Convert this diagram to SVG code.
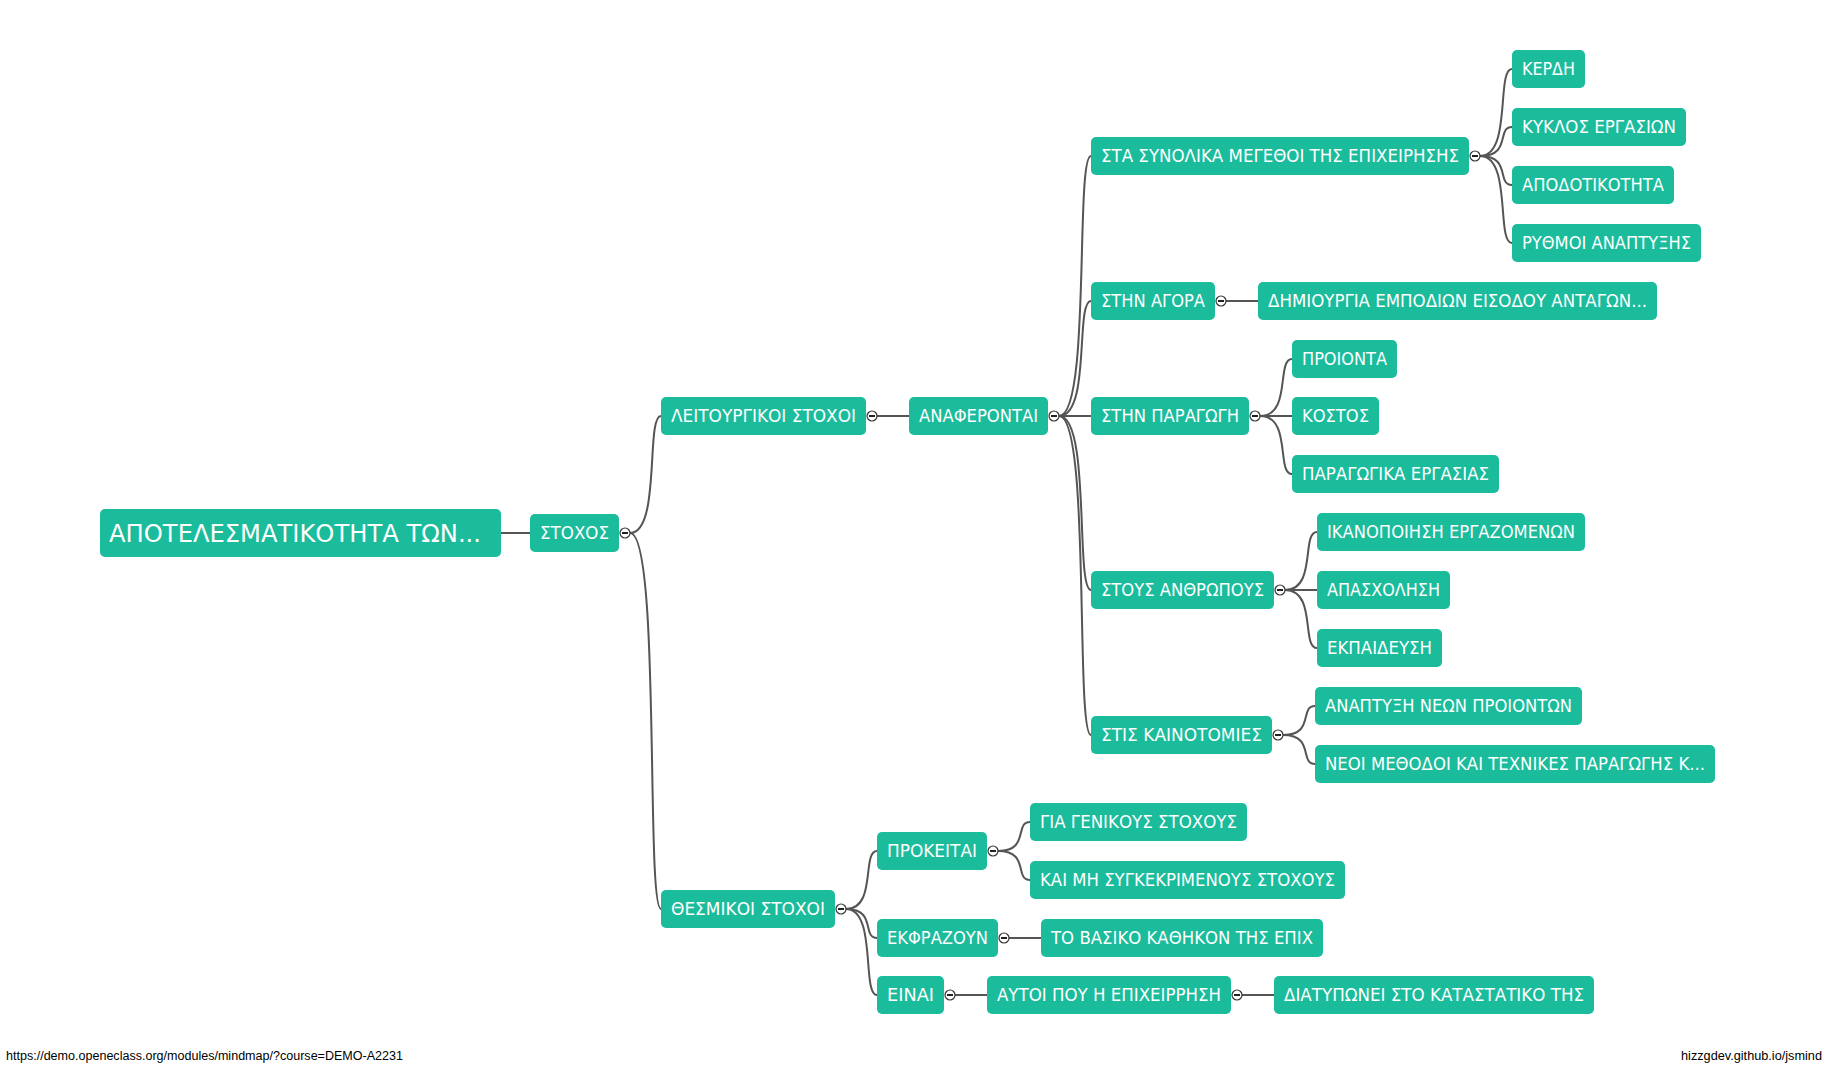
<svg xmlns="http://www.w3.org/2000/svg" width="1828" height="1066" viewBox="0 0 1828 1066">
<style>
.n rect{fill:#1abc9c;}
.n text{fill:#fff;font-family:"DejaVu Sans","Liberation Sans",sans-serif;font-size:17px;}
.r text{font-size:24px;}
.c path{fill:none;stroke:#555;stroke-width:2;}
.e circle{fill:#fff;stroke:#333;stroke-width:1.2;}
.e path{stroke:#222;stroke-width:2;fill:none;}
.f{font-family:"Liberation Sans",sans-serif;font-size:12px;fill:#000;}
</style>
<rect width="1828" height="1066" fill="#fff"/>
<g id="connectors" class="c">
<path d="M300 533 L530 533"/>
<path d="M630 533 C661 533 645.5 416 661 416"/>
<path d="M630 533 C661 533 645.5 909 661 909"/>
<path d="M877 416 L909 416"/>
<path d="M1059 416 C1091 416 1075 156 1091 156"/>
<path d="M1059 416 C1091 416 1075 301 1091 301"/>
<path d="M1059 416 L1091 416"/>
<path d="M1059 416 C1091 416 1075 590 1091 590"/>
<path d="M1059 416 C1091 416 1075 735 1091 735"/>
<path d="M1480 156 C1512 156 1496 69 1512 69"/>
<path d="M1480 156 C1512 156 1496 127 1512 127"/>
<path d="M1480 156 C1512 156 1496 185 1512 185"/>
<path d="M1480 156 C1512 156 1496 243 1512 243"/>
<path d="M1226 301 L1258 301"/>
<path d="M1260 416 C1292 416 1276 359 1292 359"/>
<path d="M1260 416 L1292 416"/>
<path d="M1260 416 C1292 416 1276 474 1292 474"/>
<path d="M1285 590 C1317 590 1301 532 1317 532"/>
<path d="M1285 590 L1317 590"/>
<path d="M1285 590 C1317 590 1301 648 1317 648"/>
<path d="M1283 735 C1315 735 1299 706 1315 706"/>
<path d="M1283 735 C1315 735 1299 764 1315 764"/>
<path d="M846 909 C877 909 861.5 851 877 851"/>
<path d="M846 909 C877 909 861.5 938 877 938"/>
<path d="M846 909 C877 909 861.5 995 877 995"/>
<path d="M998 851 C1030 851 1014 822 1030 822"/>
<path d="M998 851 C1030 851 1014 880 1030 880"/>
<path d="M1009 938 L1041 938"/>
<path d="M955 995 L987 995"/>
<path d="M1242 995 L1274 995"/>
</g>
<g id="root" class="n r"><rect x="100" y="509" width="401" height="48" rx="5"/><text x="109" y="542" textLength="372" lengthAdjust="spacingAndGlyphs">ΑΠΟΤΕΛΕΣΜΑΤΙΚΟΤΗΤΑ ΤΩΝ...</text></g>
<g id="n-stoxos" class="n"><rect x="530" y="514" width="89" height="38" rx="5"/><text x="540" y="539" textLength="69" lengthAdjust="spacingAndGlyphs">ΣΤΟΧΟΣ</text></g>
<g id="n-leit" class="n"><rect x="661" y="397" width="205" height="38" rx="5"/><text x="671" y="422" textLength="185" lengthAdjust="spacingAndGlyphs">ΛΕΙΤΟΥΡΓΙΚΟΙ ΣΤΟΧΟΙ</text></g>
<g id="n-thesm" class="n"><rect x="661" y="890" width="174" height="38" rx="5"/><text x="671" y="915" textLength="154" lengthAdjust="spacingAndGlyphs">ΘΕΣΜΙΚΟΙ ΣΤΟΧΟΙ</text></g>
<g id="n-anaf" class="n"><rect x="909" y="397" width="139" height="38" rx="5"/><text x="919" y="422" textLength="119" lengthAdjust="spacingAndGlyphs">ΑΝΑΦΕΡΟΝΤΑΙ</text></g>
<g id="n-prok" class="n"><rect x="877" y="832" width="110" height="38" rx="5"/><text x="887" y="857" textLength="90" lengthAdjust="spacingAndGlyphs">ΠΡΟΚΕΙΤΑΙ</text></g>
<g id="n-ekfr" class="n"><rect x="877" y="919" width="121" height="38" rx="5"/><text x="887" y="944" textLength="101" lengthAdjust="spacingAndGlyphs">ΕΚΦΡΑΖΟΥΝ</text></g>
<g id="n-einai" class="n"><rect x="877" y="976" width="67" height="38" rx="5"/><text x="887" y="1001" textLength="47" lengthAdjust="spacingAndGlyphs">ΕΙΝΑΙ</text></g>
<g id="n-synolika" class="n"><rect x="1091" y="137" width="378" height="38" rx="5"/><text x="1101" y="162" textLength="358" lengthAdjust="spacingAndGlyphs">ΣΤΑ ΣΥΝΟΛΙΚΑ ΜΕΓΕΘΟΙ ΤΗΣ ΕΠΙΧΕΙΡΗΣΗΣ</text></g>
<g id="n-agora" class="n"><rect x="1091" y="282" width="124" height="38" rx="5"/><text x="1101" y="307" textLength="104" lengthAdjust="spacingAndGlyphs">ΣΤΗΝ ΑΓΟΡΑ</text></g>
<g id="n-paragogi" class="n"><rect x="1091" y="397" width="158" height="38" rx="5"/><text x="1101" y="422" textLength="138" lengthAdjust="spacingAndGlyphs">ΣΤΗΝ ΠΑΡΑΓΩΓΗ</text></g>
<g id="n-anthropous" class="n"><rect x="1091" y="571" width="183" height="38" rx="5"/><text x="1101" y="596" textLength="163" lengthAdjust="spacingAndGlyphs">ΣΤΟΥΣ ΑΝΘΡΩΠΟΥΣ</text></g>
<g id="n-kainotomies" class="n"><rect x="1091" y="716" width="181" height="38" rx="5"/><text x="1101" y="741" textLength="161" lengthAdjust="spacingAndGlyphs">ΣΤΙΣ ΚΑΙΝΟΤΟΜΙΕΣ</text></g>
<g id="n-genikous" class="n"><rect x="1030" y="803" width="217" height="38" rx="5"/><text x="1040" y="828" textLength="197" lengthAdjust="spacingAndGlyphs">ΓΙΑ ΓΕΝΙΚΟΥΣ ΣΤΟΧΟΥΣ</text></g>
<g id="n-kaimi" class="n"><rect x="1030" y="861" width="315" height="38" rx="5"/><text x="1040" y="886" textLength="295" lengthAdjust="spacingAndGlyphs">ΚΑΙ ΜΗ ΣΥΓΚΕΚΡΙΜΕΝΟΥΣ ΣΤΟΧΟΥΣ</text></g>
<g id="n-vasiko" class="n"><rect x="1041" y="919" width="282" height="38" rx="5"/><text x="1051" y="944" textLength="262" lengthAdjust="spacingAndGlyphs">ΤΟ ΒΑΣΙΚΟ ΚΑΘΗΚΟΝ ΤΗΣ ΕΠΙΧ</text></g>
<g id="n-aftoi" class="n"><rect x="987" y="976" width="244" height="38" rx="5"/><text x="997" y="1001" textLength="224" lengthAdjust="spacingAndGlyphs">ΑΥΤΟΙ ΠΟΥ Η ΕΠΙΧΕΙΡΡΗΣΗ</text></g>
<g id="n-diatyponei" class="n"><rect x="1274" y="976" width="320" height="38" rx="5"/><text x="1284" y="1001" textLength="300" lengthAdjust="spacingAndGlyphs">ΔΙΑΤΥΠΩΝΕΙ ΣΤΟ ΚΑΤΑΣΤΑΤΙΚΟ ΤΗΣ</text></g>
<g id="n-kerdi" class="n"><rect x="1512" y="50" width="73" height="38" rx="5"/><text x="1522" y="75" textLength="53" lengthAdjust="spacingAndGlyphs">ΚΕΡΔΗ</text></g>
<g id="n-kyklos" class="n"><rect x="1512" y="108" width="174" height="38" rx="5"/><text x="1522" y="133" textLength="154" lengthAdjust="spacingAndGlyphs">ΚΥΚΛΟΣ ΕΡΓΑΣΙΩΝ</text></g>
<g id="n-apodotikotita" class="n"><rect x="1512" y="166" width="162" height="38" rx="5"/><text x="1522" y="191" textLength="142" lengthAdjust="spacingAndGlyphs">ΑΠΟΔΟΤΙΚΟΤΗΤΑ</text></g>
<g id="n-rythmoi" class="n"><rect x="1512" y="224" width="189" height="38" rx="5"/><text x="1522" y="249" textLength="169" lengthAdjust="spacingAndGlyphs">ΡΥΘΜΟΙ ΑΝΑΠΤΥΞΗΣ</text></g>
<g id="n-dimiourgia" class="n"><rect x="1258" y="282" width="399" height="38" rx="5"/><text x="1268" y="307" textLength="379" lengthAdjust="spacingAndGlyphs">ΔΗΜΙΟΥΡΓΙΑ ΕΜΠΟΔΙΩΝ ΕΙΣΟΔΟΥ ΑΝΤΑΓΩΝ...</text></g>
<g id="n-proionta" class="n"><rect x="1292" y="340" width="105" height="38" rx="5"/><text x="1302" y="365" textLength="85" lengthAdjust="spacingAndGlyphs">ΠΡΟΙΟΝΤΑ</text></g>
<g id="n-kostos" class="n"><rect x="1292" y="397" width="87" height="38" rx="5"/><text x="1302" y="422" textLength="67" lengthAdjust="spacingAndGlyphs">ΚΟΣΤΟΣ</text></g>
<g id="n-paragogika" class="n"><rect x="1292" y="455" width="207" height="38" rx="5"/><text x="1302" y="480" textLength="187" lengthAdjust="spacingAndGlyphs">ΠΑΡΑΓΩΓΙΚΑ ΕΡΓΑΣΙΑΣ</text></g>
<g id="n-ikanopoiisi" class="n"><rect x="1317" y="513" width="268" height="38" rx="5"/><text x="1327" y="538" textLength="248" lengthAdjust="spacingAndGlyphs">ΙΚΑΝΟΠΟΙΗΣΗ ΕΡΓΑΖΟΜΕΝΩΝ</text></g>
<g id="n-apasxolisi" class="n"><rect x="1317" y="571" width="133" height="38" rx="5"/><text x="1327" y="596" textLength="113" lengthAdjust="spacingAndGlyphs">ΑΠΑΣΧΟΛΗΣΗ</text></g>
<g id="n-ekpaidefsi" class="n"><rect x="1317" y="629" width="125" height="38" rx="5"/><text x="1327" y="654" textLength="105" lengthAdjust="spacingAndGlyphs">ΕΚΠΑΙΔΕΥΣΗ</text></g>
<g id="n-anaptyxi" class="n"><rect x="1315" y="687" width="267" height="38" rx="5"/><text x="1325" y="712" textLength="247" lengthAdjust="spacingAndGlyphs">ΑΝΑΠΤΥΞΗ ΝΕΩΝ ΠΡΟΙΟΝΤΩΝ</text></g>
<g id="n-neoi" class="n"><rect x="1315" y="745" width="400" height="38" rx="5"/><text x="1325" y="770" textLength="380" lengthAdjust="spacingAndGlyphs">ΝΕΟΙ ΜΕΘΟΔΟΙ ΚΑΙ ΤΕΧΝΙΚΕΣ ΠΑΡΑΓΩΓΗΣ Κ...</text></g>
<g id="expanders" class="e">
<circle cx="625" cy="533" r="5"/><path d="M622 533h6"/>
<circle cx="872" cy="416" r="5"/><path d="M869 416h6"/>
<circle cx="841" cy="909" r="5"/><path d="M838 909h6"/>
<circle cx="1054" cy="416" r="5"/><path d="M1051 416h6"/>
<circle cx="993" cy="851" r="5"/><path d="M990 851h6"/>
<circle cx="1004" cy="938" r="5"/><path d="M1001 938h6"/>
<circle cx="950" cy="995" r="5"/><path d="M947 995h6"/>
<circle cx="1237" cy="995" r="5"/><path d="M1234 995h6"/>
<circle cx="1475" cy="156" r="5"/><path d="M1472 156h6"/>
<circle cx="1221" cy="301" r="5"/><path d="M1218 301h6"/>
<circle cx="1255" cy="416" r="5"/><path d="M1252 416h6"/>
<circle cx="1280" cy="590" r="5"/><path d="M1277 590h6"/>
<circle cx="1278" cy="735" r="5"/><path d="M1275 735h6"/>
</g>
<text class="f" x="6" y="1060" textLength="397" lengthAdjust="spacingAndGlyphs">https://demo.openeclass.org/modules/mindmap/?course=DEMO-A2231</text>
<text class="f" x="1822" y="1060" text-anchor="end" textLength="141" lengthAdjust="spacingAndGlyphs">hizzgdev.github.io/jsmind</text>
</svg>
